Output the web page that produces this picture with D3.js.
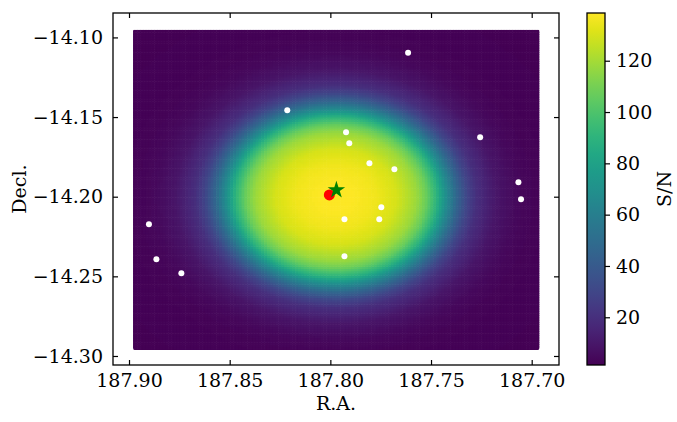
<!DOCTYPE html>
<html>
<head>
<meta charset="utf-8">
<script src="https://cdn.jsdelivr.net/npm/d3@7"></script>
<style>
  body { margin: 0; background: #fff; }
  svg { font-family: 'DejaVu Serif', serif; }
</style>
</head>
<body>
<svg id="chart" width="677" height="422"></svg>
<script>
// tick values
const raTicks = [187.90, 187.85, 187.80, 187.75, 187.70];
const decTicks = [-14.10, -14.15, -14.20, -14.25, -14.30];
const cbTicks = [20, 40, 60, 80, 100, 120];

// S/N map: centre, extent and radial profile
const snCentre = [187.7972, -14.1998];
const mapRa = [187.898, 187.6962];
const mapDec = [-14.2962, -14.0947];
const mapStep = 0.0014;
const profileR = [0, 0.01, 0.02, 0.03, 0.04, 0.045, 0.05, 0.055, 0.06, 0.065, 0.07, 0.08, 0.09, 0.10, 0.145];
const profileSN = [138.6, 138, 135.5, 130, 118, 107, 90, 67, 46, 30, 19.5, 9, 4.5, 2.6, 1.4];

// sources
const srcRa = [187.7614, 187.8214, 187.7922, 187.7906, 187.7806, 187.7682, 187.7747, 187.7930,
  187.7757, 187.7930, 187.7256, 187.7066, 187.7053, 187.8901, 187.8864, 187.8740];
const srcDec = [-14.1097, -14.1457, -14.1595, -14.1664, -14.1790, -14.1828, -14.2066, -14.2142,
  -14.2142, -14.2374, -14.1627, -14.1909, -14.2016, -14.2173, -14.2393, -14.2481];
const redPos = [187.8005, -14.1989];
const starPos = [187.7970, -14.1958];

let plotL = 113, plotR = 559, plotT = 13, plotB = 365;
let fontSize = 19;
let tickLen = 5;

const svg = d3.select('#chart');
const x = d3.scaleLinear().domain([187.90795, 187.68644]).range([plotL, plotR]);
const y = d3.scaleLinear().domain([-14.30566, -14.08467]).range([plotB, plotT]);
const profile = d3.scaleLinear().domain(profileR).range(profileSN).clamp(true);

// build grid
let cells = [];
for (let ra = mapRa[0]; ra > mapRa[1] - 1e-9; ra -= mapStep) {
  for (let dec = mapDec[0]; dec < mapDec[1] + 1e-9; dec += mapStep) {
    let dr = ra - snCentre[0];
    let dd = dec - snCentre[1];
    cells.push({ra: ra, dec: dec, v: profile(Math.sqrt(dr * dr + dd * dd))});
  }
}
const snMin = d3.min(profileSN), snMax = d3.max(profileSN);
const color = d3.scaleSequential(d3.interpolateViridis).domain([snMin, snMax]);

svg.append('clipPath').attr('id', 'mapClip')
  .append('rect')
  .attr('x', x(mapRa[0]))
  .attr('y', y(mapDec[1]))
  .attr('width', x(mapRa[1]) - x(mapRa[0]))
  .attr('height', y(mapDec[0]) - y(mapDec[1]))
  .attr('rx', 2);

let cw = Math.abs(x(0) - x(mapStep));
let ch = Math.abs(y(0) - y(mapStep));
svg.append('g')
  .attr('clip-path', 'url(#mapClip)')
  .selectAll('rect')
  .data(cells)
  .enter()
  .append('rect')
  .attr('x', d => x(d.ra) - cw / 2)
  .attr('y', d => y(d.dec) - ch / 2)
  .attr('width', cw + 0.6)
  .attr('height', ch + 0.6)
  .attr('fill', d => color(d.v));

// sources
svg.append('g').selectAll('circle')
  .data(d3.range(srcRa.length))
  .enter()
  .append('circle')
  .attr('cx', i => x(srcRa[i]))
  .attr('cy', i => y(srcDec[i]))
  .attr('r', 3)
  .attr('fill', '#fff');

svg.append('circle')
  .attr('cx', x(redPos[0]))
  .attr('cy', y(redPos[1]))
  .attr('r', 5.5)
  .attr('fill', '#ff0000');

svg.append('path')
  .attr('d', d3.symbol().type(d3.symbolStar).size(95)())
  .attr('transform', 'translate(' + x(starPos[0]) + ',' + y(starPos[1]) + ')')
  .attr('fill', '#008000');

// axes
const fmtMinus = v => d3.format('.2f')(v).replace('-', '\u2212');
const axisStyle = g => {
  g.select('.domain').remove();
  g.selectAll('line').attr('stroke', '#000').attr('stroke-width', 1.2);
  g.selectAll('text').attr('font-size', fontSize).attr('fill', '#000')
    .attr('font-family', 'DejaVu Serif');
};

svg.append('g')
  .attr('transform', 'translate(0,' + plotB + ')')
  .call(d3.axisBottom(x).tickValues(raTicks).tickSize(-tickLen).tickPadding(9).tickFormat(d3.format('.2f')))
  .call(axisStyle);
svg.append('g')
  .attr('transform', 'translate(0,' + plotT + ')')
  .call(d3.axisTop(x).tickValues(raTicks).tickSize(-tickLen).tickFormat(''))
  .call(axisStyle);
svg.append('g')
  .attr('transform', 'translate(' + plotL + ',0)')
  .call(d3.axisLeft(y).tickValues(decTicks).tickSize(-tickLen).tickPadding(10).tickFormat(fmtMinus))
  .call(axisStyle);
svg.append('g')
  .attr('transform', 'translate(' + plotR + ',0)')
  .call(d3.axisRight(y).tickValues(decTicks).tickSize(-tickLen).tickFormat(''))
  .call(axisStyle);

svg.append('rect')
  .attr('x', plotL).attr('y', plotT)
  .attr('width', plotR - plotL).attr('height', plotB - plotT)
  .attr('fill', 'none').attr('stroke', '#000').attr('stroke-width', 1.3);

svg.append('text')
  .attr('x', (plotL + plotR) / 2).attr('y', 410)
  .attr('text-anchor', 'middle')
  .attr('font-size', fontSize)
  .text('R.A.');
svg.append('text')
  .attr('transform', 'translate(26,' + ((plotT + plotB) / 2) + ') rotate(-90)')
  .attr('text-anchor', 'middle')
  .attr('font-size', fontSize)
  .text('Decl.');

// colorbar
let cbLeft = 587, cbRight = 605;
const cy = d3.scaleLinear().domain([snMin, snMax]).range([plotB, plotT]);
const grad = svg.append('defs').append('linearGradient')
  .attr('id', 'cbGrad')
  .attr('x1', 0).attr('y1', 1).attr('x2', 0).attr('y2', 0);
d3.range(0, 1.0001, 0.05).forEach(t => {
  grad.append('stop').attr('offset', t).attr('stop-color', d3.interpolateViridis(t));
});
svg.append('rect')
  .attr('x', cbLeft).attr('y', plotT)
  .attr('width', cbRight - cbLeft).attr('height', plotB - plotT)
  .attr('fill', 'url(#cbGrad)')
  .attr('stroke', '#000').attr('stroke-width', 1.3);
svg.append('g')
  .attr('transform', 'translate(' + cbRight + ',0)')
  .call(d3.axisRight(cy).tickValues(cbTicks).tickSize(tickLen).tickPadding(6))
  .call(axisStyle);
svg.append('text')
  .attr('transform', 'translate(671,' + ((plotT + plotB) / 2) + ') rotate(-90)')
  .attr('text-anchor', 'middle')
  .attr('font-size', fontSize)
  .text('S/N');
</script>
</body>
</html>
